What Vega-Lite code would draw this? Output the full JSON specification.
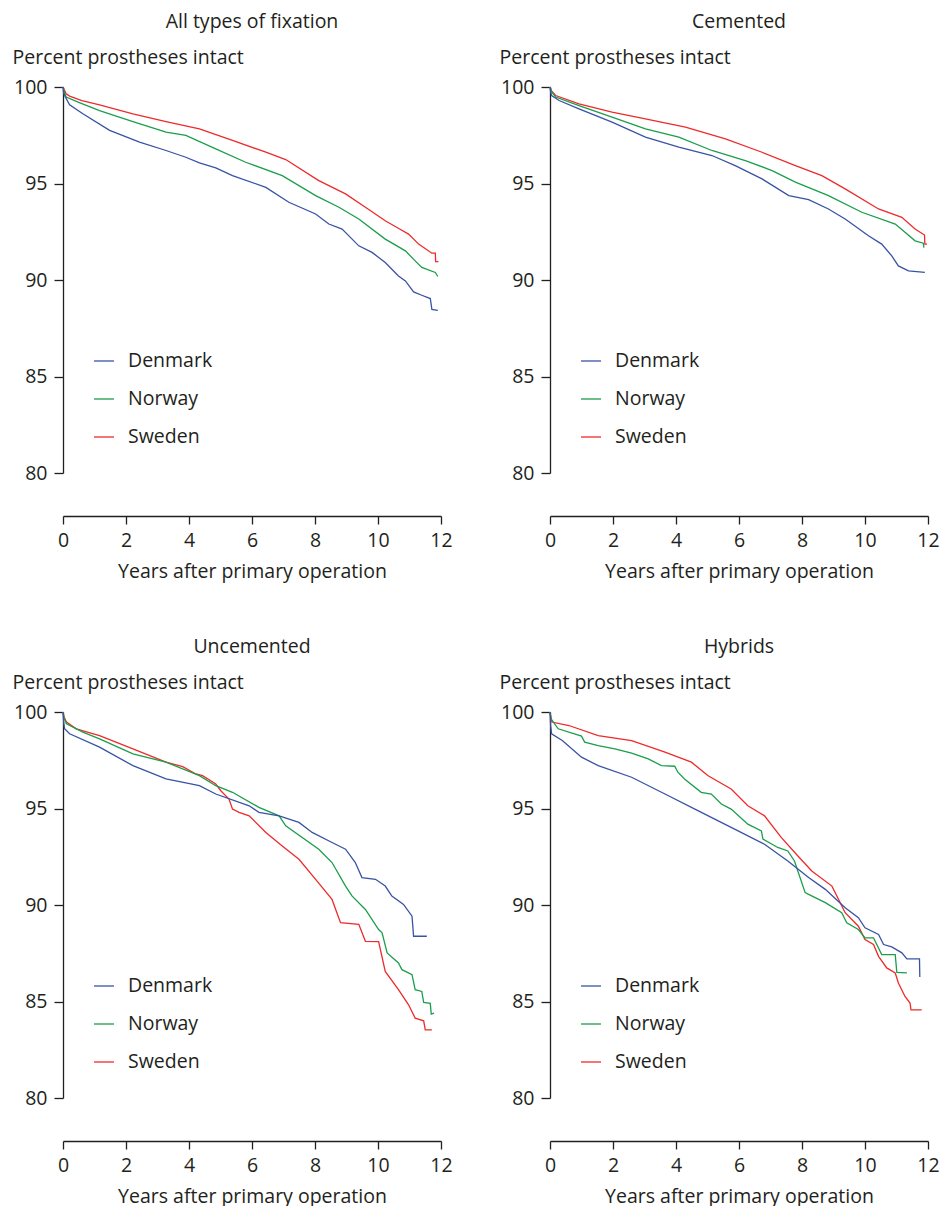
{
  "$schema": "https://vega.github.io/schema/vega-lite/v6.json",
  "padding": {"left": 12, "top": 11, "right": 5, "bottom": 0},
  "datasets": {
    "km": [
      {"p":"A","c":"Sweden","t":0,"v":100},{"p":"A","c":"Sweden","t":0.1,"v":99.65},{"p":"A","c":"Sweden","t":0.21,"v":99.53},{"p":"A","c":"Sweden","t":0.6,"v":99.3},{"p":"A","c":"Sweden","t":1.16,"v":99.08},{"p":"A","c":"Sweden","t":2.22,"v":98.61},{"p":"A","c":"Sweden","t":3.27,"v":98.21},{"p":"A","c":"Sweden","t":4.33,"v":97.83},{"p":"A","c":"Sweden","t":5.38,"v":97.23},{"p":"A","c":"Sweden","t":6.44,"v":96.62},{"p":"A","c":"Sweden","t":7.07,"v":96.24},{"p":"A","c":"Sweden","t":8.12,"v":95.15},{"p":"A","c":"Sweden","t":8.97,"v":94.46},{"p":"A","c":"Sweden","t":9.6,"v":93.77},{"p":"A","c":"Sweden","t":10.23,"v":93.07},{"p":"A","c":"Sweden","t":10.66,"v":92.67},{"p":"A","c":"Sweden","t":10.97,"v":92.38},{"p":"A","c":"Sweden","t":11.29,"v":91.86},{"p":"A","c":"Sweden","t":11.71,"v":91.39},{"p":"A","c":"Sweden","t":11.82,"v":91.39},{"p":"A","c":"Sweden","t":11.83,"v":90.95},{"p":"A","c":"Sweden","t":11.92,"v":90.95},
      {"p":"A","c":"Norway","t":0,"v":100},{"p":"A","c":"Norway","t":0.05,"v":99.7},{"p":"A","c":"Norway","t":0.1,"v":99.48},{"p":"A","c":"Norway","t":0.5,"v":99.2},{"p":"A","c":"Norway","t":1.16,"v":98.78},{"p":"A","c":"Norway","t":2.22,"v":98.21},{"p":"A","c":"Norway","t":3.27,"v":97.66},{"p":"A","c":"Norway","t":3.9,"v":97.49},{"p":"A","c":"Norway","t":4.85,"v":96.79},{"p":"A","c":"Norway","t":5.8,"v":96.1},{"p":"A","c":"Norway","t":6.96,"v":95.41},{"p":"A","c":"Norway","t":8.02,"v":94.37},{"p":"A","c":"Norway","t":8.76,"v":93.77},{"p":"A","c":"Norway","t":9.39,"v":93.16},{"p":"A","c":"Norway","t":10.23,"v":92.12},{"p":"A","c":"Norway","t":10.87,"v":91.51},{"p":"A","c":"Norway","t":11.18,"v":90.99},{"p":"A","c":"Norway","t":11.39,"v":90.65},{"p":"A","c":"Norway","t":11.82,"v":90.39},{"p":"A","c":"Norway","t":11.9,"v":90.18},
      {"p":"A","c":"Denmark","t":0,"v":100},{"p":"A","c":"Denmark","t":0.02,"v":99.7},{"p":"A","c":"Denmark","t":0.05,"v":99.56},{"p":"A","c":"Denmark","t":0.21,"v":99.08},{"p":"A","c":"Denmark","t":0.63,"v":98.61},{"p":"A","c":"Denmark","t":1.48,"v":97.75},{"p":"A","c":"Denmark","t":2.43,"v":97.14},{"p":"A","c":"Denmark","t":3.27,"v":96.71},{"p":"A","c":"Denmark","t":3.9,"v":96.36},{"p":"A","c":"Denmark","t":4.33,"v":96.07},{"p":"A","c":"Denmark","t":4.85,"v":95.81},{"p":"A","c":"Denmark","t":5.38,"v":95.41},{"p":"A","c":"Denmark","t":6.44,"v":94.8},{"p":"A","c":"Denmark","t":7.17,"v":94.03},{"p":"A","c":"Denmark","t":8.02,"v":93.42},{"p":"A","c":"Denmark","t":8.44,"v":92.9},{"p":"A","c":"Denmark","t":8.86,"v":92.64},{"p":"A","c":"Denmark","t":9.39,"v":91.77},{"p":"A","c":"Denmark","t":9.81,"v":91.43},{"p":"A","c":"Denmark","t":10.23,"v":90.91},{"p":"A","c":"Denmark","t":10.65,"v":90.21},{"p":"A","c":"Denmark","t":10.87,"v":89.95},{"p":"A","c":"Denmark","t":11.13,"v":89.38},{"p":"A","c":"Denmark","t":11.39,"v":89.21},{"p":"A","c":"Denmark","t":11.66,"v":89.04},{"p":"A","c":"Denmark","t":11.71,"v":88.48},{"p":"A","c":"Denmark","t":11.9,"v":88.43},

      {"p":"C","c":"Sweden","t":0,"v":100},{"p":"C","c":"Sweden","t":0.05,"v":99.8},{"p":"C","c":"Sweden","t":0.18,"v":99.56},{"p":"C","c":"Sweden","t":0.92,"v":99.13},{"p":"C","c":"Sweden","t":1.97,"v":98.7},{"p":"C","c":"Sweden","t":3.03,"v":98.35},{"p":"C","c":"Sweden","t":4.3,"v":97.92},{"p":"C","c":"Sweden","t":5.57,"v":97.31},{"p":"C","c":"Sweden","t":6.73,"v":96.62},{"p":"C","c":"Sweden","t":7.79,"v":95.93},{"p":"C","c":"Sweden","t":8.63,"v":95.41},{"p":"C","c":"Sweden","t":9.37,"v":94.72},{"p":"C","c":"Sweden","t":10.43,"v":93.68},{"p":"C","c":"Sweden","t":11.17,"v":93.25},{"p":"C","c":"Sweden","t":11.59,"v":92.64},{"p":"C","c":"Sweden","t":11.89,"v":92.33},{"p":"C","c":"Sweden","t":11.9,"v":91.86},{"p":"C","c":"Sweden","t":11.97,"v":91.86},
      {"p":"C","c":"Norway","t":0,"v":100},{"p":"C","c":"Norway","t":0.05,"v":99.75},{"p":"C","c":"Norway","t":0.18,"v":99.48},{"p":"C","c":"Norway","t":0.92,"v":99.04},{"p":"C","c":"Norway","t":1.97,"v":98.44},{"p":"C","c":"Norway","t":3.03,"v":97.83},{"p":"C","c":"Norway","t":4.09,"v":97.4},{"p":"C","c":"Norway","t":5.14,"v":96.71},{"p":"C","c":"Norway","t":6.2,"v":96.19},{"p":"C","c":"Norway","t":7.05,"v":95.67},{"p":"C","c":"Norway","t":7.79,"v":95.07},{"p":"C","c":"Norway","t":8.84,"v":94.37},{"p":"C","c":"Norway","t":9.9,"v":93.51},{"p":"C","c":"Norway","t":10.96,"v":92.9},{"p":"C","c":"Norway","t":11.27,"v":92.47},{"p":"C","c":"Norway","t":11.59,"v":92.03},{"p":"C","c":"Norway","t":11.85,"v":91.91},{"p":"C","c":"Norway","t":11.87,"v":91.68},
      {"p":"C","c":"Denmark","t":0,"v":100},{"p":"C","c":"Denmark","t":0.02,"v":99.75},{"p":"C","c":"Denmark","t":0.05,"v":99.56},{"p":"C","c":"Denmark","t":0.29,"v":99.3},{"p":"C","c":"Denmark","t":0.92,"v":98.87},{"p":"C","c":"Denmark","t":1.97,"v":98.18},{"p":"C","c":"Denmark","t":3.03,"v":97.4},{"p":"C","c":"Denmark","t":4.09,"v":96.88},{"p":"C","c":"Denmark","t":5.14,"v":96.45},{"p":"C","c":"Denmark","t":5.88,"v":95.93},{"p":"C","c":"Denmark","t":6.73,"v":95.24},{"p":"C","c":"Denmark","t":7.58,"v":94.37},{"p":"C","c":"Denmark","t":8.21,"v":94.16},{"p":"C","c":"Denmark","t":8.84,"v":93.68},{"p":"C","c":"Denmark","t":9.37,"v":93.16},{"p":"C","c":"Denmark","t":10.11,"v":92.29},{"p":"C","c":"Denmark","t":10.53,"v":91.86},{"p":"C","c":"Denmark","t":10.85,"v":91.25},{"p":"C","c":"Denmark","t":11.06,"v":90.73},{"p":"C","c":"Denmark","t":11.38,"v":90.47},{"p":"C","c":"Denmark","t":11.9,"v":90.39},

      {"p":"U","c":"Sweden","t":0,"v":100},{"p":"U","c":"Sweden","t":0.03,"v":99.75},{"p":"U","c":"Sweden","t":0.11,"v":99.48},{"p":"U","c":"Sweden","t":0.42,"v":99.13},{"p":"U","c":"Sweden","t":1.16,"v":98.78},{"p":"U","c":"Sweden","t":2.22,"v":98.09},{"p":"U","c":"Sweden","t":3.27,"v":97.4},{"p":"U","c":"Sweden","t":3.8,"v":97.17},{"p":"U","c":"Sweden","t":4.22,"v":96.79},{"p":"U","c":"Sweden","t":4.43,"v":96.7},{"p":"U","c":"Sweden","t":4.85,"v":96.27},{"p":"U","c":"Sweden","t":5.01,"v":95.92},{"p":"U","c":"Sweden","t":5.27,"v":95.49},{"p":"U","c":"Sweden","t":5.38,"v":94.97},{"p":"U","c":"Sweden","t":5.59,"v":94.8},{"p":"U","c":"Sweden","t":5.91,"v":94.62},{"p":"U","c":"Sweden","t":6.44,"v":93.76},{"p":"U","c":"Sweden","t":6.96,"v":93.06},{"p":"U","c":"Sweden","t":7.49,"v":92.37},{"p":"U","c":"Sweden","t":8.02,"v":91.33},{"p":"U","c":"Sweden","t":8.54,"v":90.29},{"p":"U","c":"Sweden","t":8.81,"v":89.08},{"p":"U","c":"Sweden","t":9.39,"v":89.0},{"p":"U","c":"Sweden","t":9.6,"v":88.12},{"p":"U","c":"Sweden","t":10.02,"v":88.1},{"p":"U","c":"Sweden","t":10.23,"v":86.56},{"p":"U","c":"Sweden","t":10.65,"v":85.61},{"p":"U","c":"Sweden","t":10.97,"v":84.83},{"p":"U","c":"Sweden","t":11.18,"v":84.14},{"p":"U","c":"Sweden","t":11.45,"v":84.0},{"p":"U","c":"Sweden","t":11.5,"v":83.53},{"p":"U","c":"Sweden","t":11.71,"v":83.53},
      {"p":"U","c":"Norway","t":0,"v":100},{"p":"U","c":"Norway","t":0.03,"v":99.7},{"p":"U","c":"Norway","t":0.11,"v":99.39},{"p":"U","c":"Norway","t":0.63,"v":98.96},{"p":"U","c":"Norway","t":1.16,"v":98.61},{"p":"U","c":"Norway","t":2.22,"v":97.83},{"p":"U","c":"Norway","t":3.27,"v":97.4},{"p":"U","c":"Norway","t":4.33,"v":96.7},{"p":"U","c":"Norway","t":4.85,"v":96.18},{"p":"U","c":"Norway","t":5.38,"v":95.84},{"p":"U","c":"Norway","t":6.22,"v":95.06},{"p":"U","c":"Norway","t":6.86,"v":94.62},{"p":"U","c":"Norway","t":7.07,"v":94.1},{"p":"U","c":"Norway","t":8.12,"v":92.89},{"p":"U","c":"Norway","t":8.54,"v":92.2},{"p":"U","c":"Norway","t":8.97,"v":90.98},{"p":"U","c":"Norway","t":9.18,"v":90.46},{"p":"U","c":"Norway","t":9.6,"v":89.77},{"p":"U","c":"Norway","t":10.02,"v":88.73},{"p":"U","c":"Norway","t":10.13,"v":88.56},{"p":"U","c":"Norway","t":10.29,"v":87.52},{"p":"U","c":"Norway","t":10.65,"v":87.0},{"p":"U","c":"Norway","t":10.76,"v":86.65},{"p":"U","c":"Norway","t":11.08,"v":86.39},{"p":"U","c":"Norway","t":11.18,"v":85.61},{"p":"U","c":"Norway","t":11.39,"v":85.52},{"p":"U","c":"Norway","t":11.45,"v":84.95},{"p":"U","c":"Norway","t":11.66,"v":84.9},{"p":"U","c":"Norway","t":11.69,"v":84.35},{"p":"U","c":"Norway","t":11.78,"v":84.4},
      {"p":"U","c":"Denmark","t":0,"v":100},{"p":"U","c":"Denmark","t":0.02,"v":99.5},{"p":"U","c":"Denmark","t":0.05,"v":99.13},{"p":"U","c":"Denmark","t":0.21,"v":98.87},{"p":"U","c":"Denmark","t":1.16,"v":98.18},{"p":"U","c":"Denmark","t":2.22,"v":97.22},{"p":"U","c":"Denmark","t":3.27,"v":96.53},{"p":"U","c":"Denmark","t":4.33,"v":96.18},{"p":"U","c":"Denmark","t":4.85,"v":95.75},{"p":"U","c":"Denmark","t":5.91,"v":95.14},{"p":"U","c":"Denmark","t":6.22,"v":94.8},{"p":"U","c":"Denmark","t":6.86,"v":94.62},{"p":"U","c":"Denmark","t":7.49,"v":94.28},{"p":"U","c":"Denmark","t":7.91,"v":93.76},{"p":"U","c":"Denmark","t":8.54,"v":93.24},{"p":"U","c":"Denmark","t":8.97,"v":92.89},{"p":"U","c":"Denmark","t":9.28,"v":92.2},{"p":"U","c":"Denmark","t":9.49,"v":91.42},{"p":"U","c":"Denmark","t":9.92,"v":91.33},{"p":"U","c":"Denmark","t":10.23,"v":90.98},{"p":"U","c":"Denmark","t":10.44,"v":90.46},{"p":"U","c":"Denmark","t":10.81,"v":90.03},{"p":"U","c":"Denmark","t":11.08,"v":89.42},{"p":"U","c":"Denmark","t":11.13,"v":88.38},{"p":"U","c":"Denmark","t":11.55,"v":88.38},

      {"p":"H","c":"Sweden","t":0,"v":100},{"p":"H","c":"Sweden","t":0.06,"v":99.48},{"p":"H","c":"Sweden","t":0.6,"v":99.3},{"p":"H","c":"Sweden","t":1.53,"v":98.78},{"p":"H","c":"Sweden","t":2.59,"v":98.52},{"p":"H","c":"Sweden","t":3.65,"v":97.92},{"p":"H","c":"Sweden","t":4.49,"v":97.4},{"p":"H","c":"Sweden","t":5.02,"v":96.7},{"p":"H","c":"Sweden","t":5.75,"v":96.01},{"p":"H","c":"Sweden","t":6.28,"v":95.14},{"p":"H","c":"Sweden","t":6.81,"v":94.62},{"p":"H","c":"Sweden","t":7.34,"v":93.5},{"p":"H","c":"Sweden","t":7.87,"v":92.54},{"p":"H","c":"Sweden","t":8.31,"v":91.76},{"p":"H","c":"Sweden","t":8.95,"v":90.98},{"p":"H","c":"Sweden","t":9.37,"v":89.6},{"p":"H","c":"Sweden","t":9.79,"v":88.9},{"p":"H","c":"Sweden","t":10.0,"v":88.21},{"p":"H","c":"Sweden","t":10.27,"v":87.95},{"p":"H","c":"Sweden","t":10.43,"v":87.34},{"p":"H","c":"Sweden","t":10.69,"v":86.74},{"p":"H","c":"Sweden","t":10.96,"v":86.48},{"p":"H","c":"Sweden","t":11.06,"v":85.96},{"p":"H","c":"Sweden","t":11.27,"v":85.26},{"p":"H","c":"Sweden","t":11.43,"v":84.92},{"p":"H","c":"Sweden","t":11.46,"v":84.57},{"p":"H","c":"Sweden","t":11.8,"v":84.57},
      {"p":"H","c":"Norway","t":0,"v":100},{"p":"H","c":"Norway","t":0.03,"v":99.65},{"p":"H","c":"Norway","t":0.26,"v":99.13},{"p":"H","c":"Norway","t":1.0,"v":98.75},{"p":"H","c":"Norway","t":1.1,"v":98.44},{"p":"H","c":"Norway","t":1.53,"v":98.26},{"p":"H","c":"Norway","t":2.06,"v":98.09},{"p":"H","c":"Norway","t":2.59,"v":97.87},{"p":"H","c":"Norway","t":3.12,"v":97.57},{"p":"H","c":"Norway","t":3.54,"v":97.22},{"p":"H","c":"Norway","t":3.96,"v":97.19},{"p":"H","c":"Norway","t":4.06,"v":96.88},{"p":"H","c":"Norway","t":4.27,"v":96.53},{"p":"H","c":"Norway","t":4.8,"v":95.84},{"p":"H","c":"Norway","t":5.12,"v":95.75},{"p":"H","c":"Norway","t":5.44,"v":95.23},{"p":"H","c":"Norway","t":5.75,"v":94.97},{"p":"H","c":"Norway","t":6.28,"v":94.19},{"p":"H","c":"Norway","t":6.71,"v":93.84},{"p":"H","c":"Norway","t":6.76,"v":93.41},{"p":"H","c":"Norway","t":7.23,"v":92.98},{"p":"H","c":"Norway","t":7.55,"v":92.8},{"p":"H","c":"Norway","t":7.76,"v":92.28},{"p":"H","c":"Norway","t":8.1,"v":90.64},{"p":"H","c":"Norway","t":8.21,"v":90.55},{"p":"H","c":"Norway","t":8.74,"v":90.12},{"p":"H","c":"Norway","t":9.26,"v":89.6},{"p":"H","c":"Norway","t":9.42,"v":89.08},{"p":"H","c":"Norway","t":9.79,"v":88.73},{"p":"H","c":"Norway","t":10.0,"v":88.3},{"p":"H","c":"Norway","t":10.27,"v":88.3},{"p":"H","c":"Norway","t":10.53,"v":87.43},{"p":"H","c":"Norway","t":10.96,"v":87.43},{"p":"H","c":"Norway","t":11.01,"v":86.51},{"p":"H","c":"Norway","t":11.33,"v":86.48},
      {"p":"H","c":"Denmark","t":0,"v":100},{"p":"H","c":"Denmark","t":0.02,"v":99.3},{"p":"H","c":"Denmark","t":0.05,"v":98.87},{"p":"H","c":"Denmark","t":0.39,"v":98.52},{"p":"H","c":"Denmark","t":1.0,"v":97.66},{"p":"H","c":"Denmark","t":1.53,"v":97.22},{"p":"H","c":"Denmark","t":2.59,"v":96.62},{"p":"H","c":"Denmark","t":3.65,"v":95.75},{"p":"H","c":"Denmark","t":4.71,"v":94.88},{"p":"H","c":"Denmark","t":5.75,"v":94.02},{"p":"H","c":"Denmark","t":6.81,"v":93.15},{"p":"H","c":"Denmark","t":7.55,"v":92.28},{"p":"H","c":"Denmark","t":8.21,"v":91.42},{"p":"H","c":"Denmark","t":8.74,"v":90.81},{"p":"H","c":"Denmark","t":9.37,"v":89.86},{"p":"H","c":"Denmark","t":9.79,"v":89.34},{"p":"H","c":"Denmark","t":10.0,"v":88.82},{"p":"H","c":"Denmark","t":10.43,"v":88.47},{"p":"H","c":"Denmark","t":10.59,"v":87.95},{"p":"H","c":"Denmark","t":10.85,"v":87.83},{"p":"H","c":"Denmark","t":11.17,"v":87.52},{"p":"H","c":"Denmark","t":11.33,"v":87.21},{"p":"H","c":"Denmark","t":11.73,"v":87.21},{"p":"H","c":"Denmark","t":11.74,"v":86.27}
    ]
  },
  "data": {"name": "km"},
  "columns": 2,
  "spacing": {"row": 239, "column": 109},
  "bounds": "flush",
  "resolve": {"legend": {"color": "independent"}},
  "concat": [
    {
      "title": "All types of fixation",
      "width": 378, "height": 386,
      "transform": [{"filter": "datum.p === 'A'"}],
      "mark": {"type": "line", "strokeWidth": 1.3},
      "encoding": {
        "x": {"field": "t", "type": "quantitative", "scale": {"domain": [0, 12], "nice": false, "zero": false}, "axis": {"values": [0,2,4,6,8,10,12], "offset": 43, "title": "Years after primary operation"}},
        "y": {"field": "v", "type": "quantitative", "scale": {"domain": [80, 100], "nice": false, "zero": false}, "axis": {"values": [80,85,90,95,100], "title": "Percent prostheses intact"}},
        "color": {"field": "c", "type": "nominal", "scale": {"domain": ["Denmark","Norway","Sweden"], "range": ["#3953a4","#1b9e4b","#ee2a2a"]}, "legend": {"orient": "none", "legendX": 30, "legendY": 263}}
      }
    },
    {
      "title": "Cemented",
      "width": 378, "height": 386,
      "transform": [{"filter": "datum.p === 'C'"}],
      "mark": {"type": "line", "strokeWidth": 1.3},
      "encoding": {
        "x": {"field": "t", "type": "quantitative", "scale": {"domain": [0, 12], "nice": false, "zero": false}, "axis": {"values": [0,2,4,6,8,10,12], "offset": 43, "title": "Years after primary operation"}},
        "y": {"field": "v", "type": "quantitative", "scale": {"domain": [80, 100], "nice": false, "zero": false}, "axis": {"values": [80,85,90,95,100], "title": "Percent prostheses intact"}},
        "color": {"field": "c", "type": "nominal", "scale": {"domain": ["Denmark","Norway","Sweden"], "range": ["#3953a4","#1b9e4b","#ee2a2a"]}, "legend": {"orient": "none", "legendX": 30, "legendY": 263}}
      }
    },
    {
      "title": "Uncemented",
      "width": 378, "height": 386,
      "transform": [{"filter": "datum.p === 'U'"}],
      "mark": {"type": "line", "strokeWidth": 1.3},
      "encoding": {
        "x": {"field": "t", "type": "quantitative", "scale": {"domain": [0, 12], "nice": false, "zero": false}, "axis": {"values": [0,2,4,6,8,10,12], "offset": 43, "title": "Years after primary operation"}},
        "y": {"field": "v", "type": "quantitative", "scale": {"domain": [80, 100], "nice": false, "zero": false}, "axis": {"values": [80,85,90,95,100], "title": "Percent prostheses intact"}},
        "color": {"field": "c", "type": "nominal", "scale": {"domain": ["Denmark","Norway","Sweden"], "range": ["#3953a4","#1b9e4b","#ee2a2a"]}, "legend": {"orient": "none", "legendX": 30, "legendY": 263}}
      }
    },
    {
      "title": "Hybrids",
      "width": 378, "height": 386,
      "transform": [{"filter": "datum.p === 'H'"}],
      "mark": {"type": "line", "strokeWidth": 1.3},
      "encoding": {
        "x": {"field": "t", "type": "quantitative", "scale": {"domain": [0, 12], "nice": false, "zero": false}, "axis": {"values": [0,2,4,6,8,10,12], "offset": 43, "title": "Years after primary operation"}},
        "y": {"field": "v", "type": "quantitative", "scale": {"domain": [80, 100], "nice": false, "zero": false}, "axis": {"values": [80,85,90,95,100], "title": "Percent prostheses intact"}},
        "color": {"field": "c", "type": "nominal", "scale": {"domain": ["Denmark","Norway","Sweden"], "range": ["#3953a4","#1b9e4b","#ee2a2a"]}, "legend": {"orient": "none", "legendX": 30, "legendY": 263}}
      }
    }
  ],
  "config": {
    "font": "Open Sans",
    "view": {"stroke": null},
    "axis": {"grid": false, "domainColor": "#231f20", "tickColor": "#231f20", "labelColor": "#231f20", "titleColor": "#231f20", "labelFontSize": 19.5, "titleFontSize": 19.5, "titleFontWeight": "normal", "domainWidth": 1.3, "tickWidth": 1.3, "labelFlush": false},
    "axisX": {"tickSize": 8, "labelPadding": 7, "titlePadding": 13},
    "axisY": {"tickSize": 9, "labelPadding": 7, "titleAngle": 0, "titleAlign": "left", "titleBaseline": "alphabetic", "titleX": -51, "titleY": -24},
    "title": {"fontSize": 19.5, "fontWeight": "normal", "color": "#231f20", "frame": "group", "anchor": "middle", "offset": 15},
    "legend": {"title": null, "symbolType": "stroke", "symbolSize": 400, "symbolStrokeWidth": 1.3, "labelFontSize": 19.5, "labelColor": "#231f20", "rowPadding": 17, "labelOffset": 13, "padding": 0}
  }
}
